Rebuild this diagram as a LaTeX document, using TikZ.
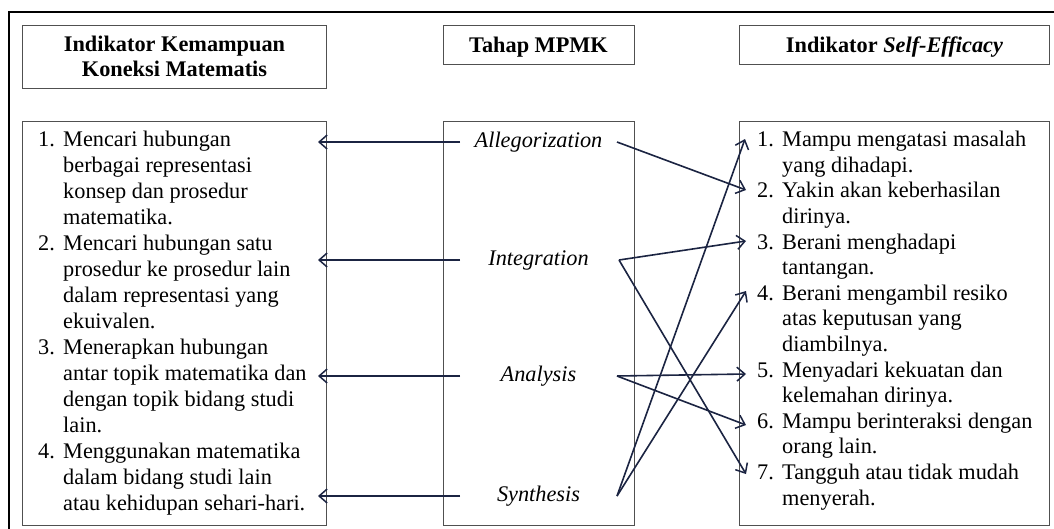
\documentclass[tikz,border=0pt]{standalone}
\usepackage{fontspec}
\setmainfont{Liberation Serif}
\usetikzlibrary{arrows.meta}
\definecolor{arr}{HTML}{1B2442}
\definecolor{boxc}{HTML}{505050}
\newcommand\numbox[1]{\makebox[25pt][l]{#1}}
\begin{document}
\begin{tikzpicture}[x=1pt,y=-1pt,
  box/.style={draw=boxc,line width=1pt},
  lbl/.style={font=\fontsize{22.3}{26}\selectfont\itshape,inner sep=0pt,anchor=base},
  hdr/.style={font=\fontsize{22.3}{25}\selectfont\bfseries,align=center,inner sep=0pt},
  lstL/.style={font=\fontsize{22.3}{26}\selectfont,inner sep=0pt,anchor=base west},
  lstR/.style={font=\fontsize{22.3}{25.6}\selectfont,inner sep=0pt,anchor=base west},
  conn/.style={draw=arr,line width=1.6pt,-{Straight Barb[length=8pt,width=14pt,line width=1.5pt]}}
]
\useasboundingbox (0,0) rectangle (1054,528);
\fill[white] (0,0) rectangle (1054,528);
\begin{scope}
  \clip (0,0) rectangle (1054,528);
  \draw[line width=2.8pt] (9,12) rectangle (1070,545);
\end{scope}

% header boxes
\draw[box] (22.5,25) rectangle (326.5,88.5);
\draw[box] (443,25) rectangle (634,64);
\draw[box] (739.5,25) rectangle (1049.5,64);
\node[hdr] (hL) at (174.5,56.5) {Indikator Kemampuan\\Koneksi Matematis};
\node[hdr,anchor=base] (hM) at (538.5,52) {Tahap MPMK};
\node[hdr,anchor=base] (hR) at (894.5,52) {Indikator \textit{Self-Efficacy}};

% body boxes
\draw[box] (22.5,121) rectangle (326.5,525);
\draw[box] (443,121) rectangle (634,525);
\draw[box] (739.5,121) rectangle (1049.5,525);

% left list
\node[lstL] (L) at (38,146.7) {\begin{tabular}[t]{@{}l@{}l@{}}
\numbox{1.} & Mencari hubungan\\
 & berbagai representasi\\
 & konsep dan prosedur\\
 & matematika.\\
\numbox{2.} & Mencari hubungan satu\\
 & prosedur ke prosedur lain\\
 & dalam representasi yang\\
 & ekuivalen.\\
\numbox{3.} & Menerapkan hubungan\\
 & antar topik matematika dan\\
 & dengan topik bidang studi\\
 & lain.\\
\numbox{4.} & Menggunakan matematika\\
 & dalam bidang studi lain\\
 & atau kehidupan sehari-hari.
\end{tabular}};

% right list
\node[lstR] (R) at (757,146.7) {\begin{tabular}[t]{@{}l@{}l@{}}
\numbox{1.} & Mampu mengatasi masalah\\
 & yang dihadapi.\\
\numbox{2.} & Yakin akan keberhasilan\\
 & dirinya.\\
\numbox{3.} & Berani menghadapi\\
 & tantangan.\\
\numbox{4.} & Berani mengambil resiko\\
 & atas keputusan yang\\
 & diambilnya.\\
\numbox{5.} & Menyadari kekuatan dan\\
 & kelemahan dirinya.\\
\numbox{6.} & Mampu berinteraksi dengan\\
 & orang lain.\\
\numbox{7.} & Tangguh atau tidak mudah\\
 & menyerah.
\end{tabular}};

% middle labels
\node[lbl] (al) at (538.5,147) {Allegorization};
\node[lbl] (in) at (538.5,265) {Integration};
\node[lbl] (an) at (538.5,381) {Analysis};
\node[lbl] (sy) at (538.5,501) {Synthesis};

% arrow end points
\coordinate (alW) at (460,142);
\coordinate (inW) at (460,260);
\coordinate (anW) at (460,376);
\coordinate (syW) at (460,496);
\coordinate (alE) at (617,142);
\coordinate (inE) at (619,260);
\coordinate (anE) at (617,376);
\coordinate (syE) at (617,496);

\coordinate (l1) at (318,142);
\coordinate (l2) at (318,260);
\coordinate (l3) at (318,376);
\coordinate (l4) at (318,496);

\coordinate (r1) at (745,139);
\coordinate (r2) at (746,190);
\coordinate (r3) at (746,241);
\coordinate (r4) at (746,291);
\coordinate (r5) at (746,374);
\coordinate (r6) at (746,425);
\coordinate (r7) at (746,474);

% left arrows
\draw[conn] (alW) -- (l1);
\draw[conn] (inW) -- (l2);
\draw[conn] (anW) -- (l3);
\draw[conn] (syW) -- (l4);

% right arrows
\draw[conn] (alE) -- (r2);
\draw[conn] (inE) -- (r3);
\draw[conn] (inE) -- (r7);
\draw[conn] (anE) -- (r5);
\draw[conn] (anE) -- (r6);
\draw[conn] (syE) -- (r1);
\draw[conn] (syE) -- (r4);
\end{tikzpicture}
\end{document}
